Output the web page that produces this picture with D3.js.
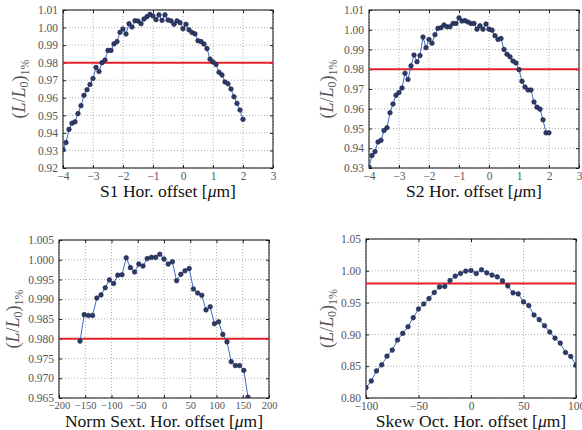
<!DOCTYPE html>
<html><head><meta charset="utf-8">
<script src="https://cdn.jsdelivr.net/npm/d3@7"></script>
<style>body{margin:0;background:#fff}svg{display:block}</style>
</head><body>
<svg id="c" width="582" height="430"></svg>
<script>
// ---- data ----
const s1X = [-4.0,-3.9,-3.8,-3.7,-3.6,-3.5,-3.4,-3.3,-3.2,-3.1,-3.0,-2.9,-2.8,-2.7,-2.6,-2.5,-2.4,-2.3,-2.2,-2.1,-2.0,-1.9,-1.8,-1.7,-1.6,-1.5,-1.4,-1.3,-1.2,-1.1,-1.0,-0.9,-0.8,-0.7,-0.6,-0.5,-0.4,-0.3,-0.2,-0.1,0.0,0.1,0.2,0.3,0.4,0.5,0.6,0.7,0.8,0.9,1.0,1.1,1.2,1.3,1.4,1.5,1.6,1.7,1.8,1.9,2.0];
const s1Y = [0.9305,0.9345,0.942,0.9455,0.9463,0.951,0.9555,0.9614,0.9646,0.9676,0.971,0.9773,0.975,0.980,0.9815,0.987,0.987,0.9907,0.992,0.9973,0.9992,0.9963,1.0022,1.0003,1.0039,1.0037,1.0022,1.0049,1.0062,1.0075,1.0066,1.0045,1.0072,1.0041,1.0072,1.0043,1.0038,1.0019,1.0038,1.0028,0.9993,1.0019,0.9987,0.9972,0.9964,0.9925,0.992,0.9906,0.988,0.982,0.9804,0.979,0.9745,0.973,0.969,0.968,0.965,0.9606,0.9568,0.953,0.9477];
const s2X = s1X.slice();
const s2Y = [0.9305,0.9363,0.9383,0.9432,0.944,0.949,0.9504,0.958,0.9624,0.9668,0.9682,0.9705,0.978,0.9748,0.9817,0.9872,0.9838,0.9869,0.9963,0.9909,0.9951,0.9932,0.9975,1.0007,1.001,1.0024,1.0015,1.0015,1.0032,1.0032,1.006,1.0044,1.0046,1.0039,1.0032,1.0032,1.0003,1.002,1.0003,1.0029,1.0003,0.9998,0.997,0.9951,0.9956,0.99,0.9876,0.9863,0.9842,0.9832,0.9798,0.9739,0.971,0.9695,0.9695,0.9634,0.9608,0.9598,0.9544,0.9478,0.9478];
const nsX = [-160,-152,-144,-136,-128,-120,-112,-104,-96,-88,-80,-72,-64,-56,-48,-40,-32,-24,-16,-8,0,8,16,24,32,40,48,56,64,72,80,88,96,104,112,120,128,136,144,152,160];
const nsY = [0.9794,0.9861,0.9859,0.9859,0.9903,0.9911,0.9929,0.9949,0.9940,0.9961,0.9962,1.0005,0.998,0.9969,0.9989,0.9984,1.0003,1.0006,1.0006,1.0014,1.0002,0.9989,0.9995,0.9947,0.9963,0.9972,0.9978,0.9926,0.9916,0.9910,0.9873,0.9881,0.9838,0.9843,0.9811,0.9792,0.9742,0.9732,0.9732,0.972,0.9652];
const soX = [-100,-95,-90,-85,-80,-75,-70,-65,-60,-55,-50,-45,-40,-35,-30,-25,-20,-15,-10,-5,0,5,10,15,20,25,30,35,40,45,50,55,60,65,70,75,80,85,90,95,100];
const soY = [0.8163,0.8268,0.8426,0.8521,0.8658,0.8753,0.8911,0.9016,0.9121,0.9263,0.94,0.9479,0.9563,0.9658,0.9747,0.9753,0.9847,0.9916,0.9958,0.9995,1.0005,0.9958,1.0016,0.9968,0.9932,0.9905,0.9842,0.9763,0.9653,0.9637,0.9511,0.9453,0.9305,0.9232,0.9137,0.9037,0.8942,0.8863,0.8716,0.8653,0.8516];
const thresholds = [0.98, 0.98, 0.98, 0.98];
const xLabels = ["S1", "S2", "Norm Sext.", "Skew Oct."];
const s1XTicks = [-4,-3,-2,-1,0,1,2,3];
const s1YTicks = [0.92,0.93,0.94,0.95,0.96,0.97,0.98,0.99,1.00,1.01];
const s2YTicks = [0.93,0.94,0.95,0.96,0.97,0.98,0.99,1.00,1.01];
const nsXTicks = [-200,-150,-100,-50,0,50,100,150,200];
const nsYTicks = [0.965,0.970,0.975,0.980,0.985,0.990,0.995,1.000,1.005];
const soXTicks = [-100,-50,0,50,100];
const soYTicks = [0.80,0.85,0.90,0.95,1.00,1.05];

const panels = [
  {x:s1X, y:s1Y, xd:[-4,3], yd:[0.92,1.01], xt:s1XTicks, yt:s1YTicks, yf:".2f", xf:"d", thr:thresholds[0], lab:xLabels[0],
   box:[63,10,273,168], ylx:25, xfs:11.5},
  {x:s2X, y:s2Y, xd:[-4,3], yd:[0.93,1.01], xt:s1XTicks, yt:s2YTicks, yf:".2f", xf:"d", thr:thresholds[1], lab:xLabels[1],
   box:[369,10,579,168], ylx:333, xfs:11.5},
  {x:nsX, y:nsY, xd:[-200,200], yd:[0.965,1.005], xt:nsXTicks, yt:nsYTicks, yf:".3f", xf:"d", thr:thresholds[2], lab:xLabels[2],
   box:[59,240,269,398], ylx:19, xfs:10.5},
  {x:soX, y:soY, xd:[-100,100], yd:[0.80,1.05], xt:soXTicks, yt:soYTicks, yf:".2f", xf:"d", thr:thresholds[3], lab:xLabels[3],
   box:[366,239,576,398], ylx:333, xfs:11.5},
];

const svg = d3.select("#c");
const SERIF = "'Liberation Serif','DejaVu Serif',serif";
const minus = s => s.replace("-", "\u2212");

panels.forEach((p, i) => {
  const [x0,y0,x1,y1] = p.box;
  const xs = d3.scaleLinear().domain(p.xd).range([x0,x1]);
  const ys = d3.scaleLinear().domain(p.yd).range([y1,y0]);
  const g = svg.append("g");
  const cid = "clip"+i;
  svg.append("clipPath").attr("id",cid).append("rect")
    .attr("x",x0).attr("y",y0).attr("width",x1-x0).attr("height",y1-y0);

  // grid
  g.selectAll(".gx").data(p.xt).join("line")
    .attr("x1",d=>xs(d)).attr("x2",d=>xs(d)).attr("y1",y0).attr("y2",y1)
    .attr("stroke","#9a9a9a").attr("stroke-width",0.8).attr("stroke-dasharray","1,2");
  g.selectAll(".gy").data(p.yt).join("line")
    .attr("y1",d=>ys(d)).attr("y2",d=>ys(d)).attr("x1",x0).attr("x2",x1)
    .attr("stroke","#9a9a9a").attr("stroke-width",0.8).attr("stroke-dasharray","1,2");

  // axes with inward ticks
  const fmtX = d => minus(d3.format(p.xf)(d));
  const fmtY = d => d3.format(p.yf)(d);
  const bx = g.append("g").attr("transform",`translate(0,${y1})`).call(d3.axisBottom(xs).tickValues(p.xt).tickFormat(fmtX).tickSizeInner(-3).tickSizeOuter(0).tickPadding(4));
  const ly = g.append("g").attr("transform",`translate(${x0},0)`).call(d3.axisLeft(ys).tickValues(p.yt).tickFormat(fmtY).tickSizeInner(-3).tickSizeOuter(0).tickPadding(5));
  const tx = g.append("g").attr("transform",`translate(0,${y0})`).call(d3.axisTop(xs).tickValues(p.xt).tickFormat("").tickSizeInner(-3).tickSizeOuter(0));
  const ry = g.append("g").attr("transform",`translate(${x1},0)`).call(d3.axisRight(ys).tickValues(p.yt).tickFormat("").tickSizeInner(-3).tickSizeOuter(0));
  [bx,ly,tx,ry].forEach(a => {
    a.select(".domain").remove();
    a.selectAll("line").attr("stroke","#222");
    a.selectAll("text").attr("font-family",SERIF).attr("font-size",11.5).attr("fill","#555");
  });
  bx.selectAll("text").attr("font-size",p.xfs);

  // frame
  g.append("rect").attr("x",x0).attr("y",y0).attr("width",x1-x0).attr("height",y1-y0)
    .attr("fill","none").attr("stroke","#111").attr("stroke-width",1);

  const data = p.x.map((v,k)=>({x:v, y:p.y[k]}));
  const pg = g.append("g").attr("clip-path",`url(#${cid})`);
  // threshold line
  pg.append("line").attr("x1",x0).attr("x2",x1).attr("y1",ys(p.thr)).attr("y2",ys(p.thr))
    .attr("stroke","#e8202a").attr("stroke-width",2);
  pg.append("path").datum(data)
    .attr("d", d3.line().x(d=>xs(d.x)).y(d=>ys(d.y)))
    .attr("fill","none").attr("stroke","#3f6cc4").attr("stroke-width",1);
  pg.selectAll("circle").data(data).join("circle")
    .attr("cx",d=>xs(d.x)).attr("cy",d=>ys(d.y)).attr("r",2.3)
    .attr("fill","#2c3b6b").attr("stroke","#1a2240").attr("stroke-width",0.6);

  // x label
  const xl = svg.append("text").attr("x",(x0+x1)/2).attr("y",y1+29)
    .attr("text-anchor","middle").attr("font-family",SERIF).attr("font-size",17.5).attr("fill","#111");
  xl.append("tspan").text(p.lab + " Hor. offset [");
  xl.append("tspan").attr("font-style","italic").text("\u03bc");
  xl.append("tspan").text("m]");

  // y label
  const cy = (y0+y1)/2;
  const yl = svg.append("text").attr("transform",`translate(${p.ylx},${cy}) rotate(-90)`)
    .attr("text-anchor","middle").attr("font-family",SERIF).attr("font-size",18).attr("fill","#555");
  yl.append("tspan").text("(");
  yl.append("tspan").attr("font-style","italic").text("L");
  yl.append("tspan").text("/");
  yl.append("tspan").attr("font-style","italic").text("L");
  yl.append("tspan").attr("font-size",12).attr("dy",3).text("0");
  yl.append("tspan").attr("dy",-3).text(")");
  yl.append("tspan").attr("font-size",12).attr("dy",4).text("1%");
});
</script>
</body></html>
